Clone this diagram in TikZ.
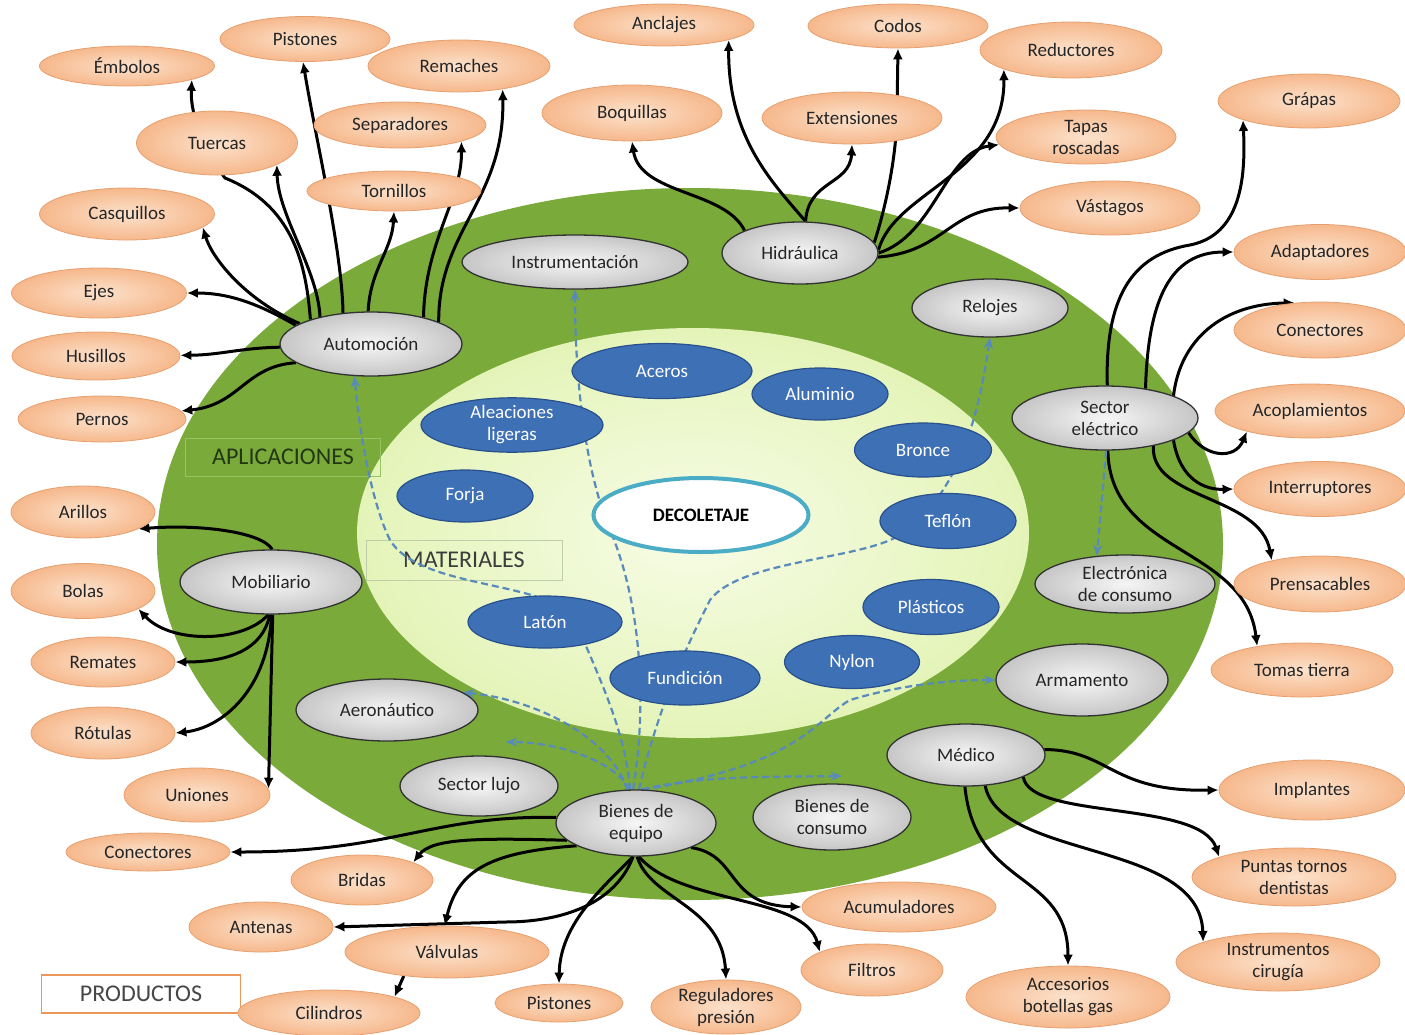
\documentclass[tikz,border=0pt]{standalone}
\usepackage{fontspec}
\setmainfont{Carlito}
\usetikzlibrary{shapes.geometric,arrows.meta}
\pgfdeclarelayer{bg}
\pgfdeclarelayer{conn}
\pgfsetlayers{bg,conn,main}
\definecolor{orIn}{RGB}{252,226,204}
\definecolor{orOut}{RGB}{246,184,140}
\definecolor{orLine}{RGB}{230,160,112}
\definecolor{gyIn}{RGB}{246,246,246}
\definecolor{gyOut}{RGB}{198,198,198}
\definecolor{gyLine}{RGB}{50,50,50}
\definecolor{blu}{RGB}{62,112,182}
\definecolor{bluLine}{RGB}{40,80,140}
\definecolor{grn}{RGB}{122,170,58}
\definecolor{lightIn}{RGB}{247,252,230}
\definecolor{lightOut}{RGB}{228,244,184}
\definecolor{decoLine}{RGB}{75,172,198}
\definecolor{dashblue}{RGB}{88,138,188}
\definecolor{txtc}{RGB}{38,38,38}
\definecolor{aplB}{RGB}{150,196,100}
\definecolor{aplT}{RGB}{35,55,20}
\definecolor{matB}{RGB}{190,206,170}
\definecolor{matT}{RGB}{60,60,60}
\definecolor{proB}{RGB}{235,150,90}
\definecolor{proT}{RGB}{70,70,70}
\newcommand{\ndfont}{\fontsize{19}{22}\selectfont}
\newcommand{\lblfont}{\fontsize{24}{28}\selectfont}
\newcommand{\decofont}{\bfseries\fontsize{19}{22}\selectfont}
\tikzset{
  nd/.style 2 args={ellipse, minimum width=#1pt, minimum height=#2pt, inner sep=0pt, align=center, font=\ndfont},
  prod/.style 2 args={nd={#1}{#2}, inner color=orIn, outer color=orOut, draw=orLine, line width=0.8pt, text=txtc},
  app/.style 2 args={nd={#1}{#2}, inner color=gyIn, outer color=gyOut, draw=gyLine, line width=1.3pt, text=txtc},
  mat/.style 2 args={nd={#1}{#2}, fill=blu, draw=bluLine, line width=1.2pt, text=white},
  lbl/.style={rectangle, inner sep=0pt, font=\lblfont},
  arr/.style={line width=3pt, black, -{Latex[length=11pt,width=10pt]}},
  dsh/.style={line width=2.2pt, dashblue, dash pattern=on 7pt off 4pt, -{Stealth[length=11pt,width=9pt]}},
}
\begin{document}
\begin{tikzpicture}[x=1pt,y=-1pt]
\useasboundingbox (0,0) rectangle (1405,1034);
\begin{pgfonlayer}{bg}
\fill[white] (0,0) rectangle (1405,1034);
\fill[grn] (690,544) ellipse [x radius=533, y radius=356];
\shade[inner color=lightIn, outer color=lightOut] (693,533) ellipse [x radius=336, y radius=205];
\node[lbl, draw=aplB, line width=1pt, text=aplT, minimum width=195pt, minimum height=38pt] (aplic) at (283,457) {APLICACIONES};
\node[lbl, draw=matB, line width=1pt, text=matT, minimum width=196pt, minimum height=40pt] (mater) at (464,560) {MATERIALES};
\end{pgfonlayer}
\node[lbl, draw=proB, fill=white, line width=1.5pt, text=proT, minimum width=199pt, minimum height=38pt] (produ) at (141,994) {PRODUCTOS};

% products (orange)
\node[prod={175}{40}] (emb) at (127,66) {Émbolos};
\node[prod={170}{45}] (pist) at (305,39) {Pistones};
\node[prod={182}{52}] (rema) at (459,66) {Remaches};
\node[prod={161}{64}] (tuer) at (217,143) {Tuercas};
\node[prod={172}{46}] (sepa) at (400,125) {Separadores};
\node[prod={174}{40}] (torn) at (394,191) {Tornillos};
\node[prod={175}{52}] (casq) at (127,214) {Casquillos};
\node[prod={175}{50}] (ejes) at (99,293) {Ejes};
\node[prod={168}{48}] (husi) at (96,356) {Husillos};
\node[prod={168}{46}] (pern) at (102,419) {Pernos};
\node[prod={180}{42}] (ancl) at (664,25) {Anclajes};
\node[prod={180}{44}] (codo) at (898,26) {Codos};
\node[prod={182}{56}] (redu) at (1071,50) {Reductores};
\node[prod={180}{56}] (boqu) at (632,113) {Boquillas};
\node[prod={180}{52}] (exte) at (852,118) {Extensiones};
\node[prod={180}{54}] (tapa) at (1086,137) {Tapas\\roscadas};
\node[prod={180}{54}] (vast) at (1110,208) {Vástagos};
\node[prod={182}{54}] (grap) at (1309,101) {Grápas};
\node[prod={172}{55}] (adap) at (1320,252) {Adaptadores};
\node[prod={172}{56}] (cone) at (1320,330) {Conectores};
\node[prod={190}{54}] (acop) at (1310,411) {Acoplamientos};
\node[prod={172}{55}] (inte) at (1320,489) {Interruptores};
\node[prod={172}{56}] (pren) at (1320,584) {Prensacables};
\node[prod={182}{54}] (toma) at (1302,670) {Tomas tierra};
\node[prod={186}{60}] (impl) at (1312,790) {Implantes};
\node[prod={204}{58}] (punt) at (1294,877) {Puntas tornos\\dentistas};
\node[prod={204}{58}] (icir) at (1278,962) {Instrumentos\\cirugía};
\node[prod={204}{62}] (acce) at (1068,997) {Accesorios\\botellas gas};
\node[prod={142}{52}] (filt) at (872,970) {Filtros};
\node[prod={194}{50}] (acum) at (899,907) {Acumuladores};
\node[prod={150}{48}] (regu) at (726,1007) {Reguladores\\presión};
\node[prod={128}{38}] (pis2) at (559,1003) {Pistones};
\node[prod={182}{46}] (cili) at (329,1013) {Cilindros};
\node[prod={204}{52}] (valv) at (447,952) {Válvulas};
\node[prod={144}{50}] (ante) at (261,927) {Antenas};
\node[prod={142}{50}] (brid) at (362,880) {Bridas};
\node[prod={164}{38}] (con2) at (148,852) {Conectores};
\node[prod={146}{54}] (unio) at (197,795) {Uniones};
\node[prod={144}{52}] (rotu) at (103,733) {Rótulas};
\node[prod={144}{50}] (remt) at (103,662) {Remates};
\node[prod={144}{55}] (bola) at (83,591) {Bolas};
\node[prod={144}{52}] (aril) at (83,512) {Arillos};

% applications (gray)
\node[app={182}{64}] (auto) at (371,344) {Automoción};
\node[app={156}{62}] (hidr) at (800,253) {Hidráulica};
\node[app={226}{54}] (inst) at (575,262) {Instrumentación};
\node[app={156}{58}] (relo) at (990,308) {Relojes};
\node[app={186}{64}] (sect) at (1105,418) {Sector\\eléctrico};
\node[app={180}{58}] (elec) at (1125,584) {Electrónica\\de consumo};
\node[app={172}{72}] (arma) at (1082,680) {Armamento};
\node[app={158}{62}] (medi) at (966,755) {Médico};
\node[app={182}{64}] (mobi) at (271,582) {Mobiliario};
\node[app={182}{62}] (aero) at (387,710) {Aeronáutico};
\node[app={158}{60}] (lujo) at (479,786) {Sector lujo};
\node[app={160}{66}] (bieq) at (636,823) {Bienes de\\equipo};
\node[app={158}{66}] (bcon) at (832,817) {Bienes de\\consumo};

% materials (blue)
\node[mat={180}{55}] (acer) at (662,371) {Aceros};
\node[mat={136}{52}] (alum) at (820,394) {Aluminio};
\node[mat={182}{54}] (alea) at (512,425) {Aleaciones\\ligeras};
\node[mat={137}{54}] (bron) at (923,450) {Bronce};
\node[mat={136}{52}] (forj) at (465,496) {Forja};
\node[mat={136}{55}] (tefl) at (948,521) {Teflón};
\node[mat={136}{55}] (plas) at (931,607) {Plásticos};
\node[mat={154}{52}] (lato) at (545,622) {Latón};
\node[mat={135}{53}] (nylo) at (852,662) {Nylon};
\node[mat={150}{54}] (fund) at (685,678) {Fundición};
\node[nd={215}{74}, fill=white, draw=decoLine, line width=4pt, text=black, font=\decofont] (deco) at (701,515) {DECOLETAJE};

\coordinate (lujoend) at (506,742);
\coordinate (bconend) at (842,776);

\begin{pgfonlayer}{conn}
% Automocion
\draw[arr] (auto.194) .. controls (245,366) and (240,405) .. (pern);
\draw[arr] (auto.182) .. controls (240,348) and (220,355) .. (husi);
\draw[arr] (auto.166) .. controls (262,306) and (232,293) .. (ejes);
\draw[arr] (auto.164) .. controls (245,300) and (212,258) .. (casq.-10);
\draw[arr] (auto.158) .. controls (306,262) and (292,205) .. (225,178) .. controls (205,152) and (190,115) .. (emb.-12);
\draw[arr] (auto.152) .. controls (318,270) and (278,215) .. (tuer.-20);
\draw[arr] (auto.132) .. controls (342,250) and (316,140) .. (pist.-95);
\draw[arr] (auto.95) .. controls (370,270) and (392,250) .. (torn.south);
\draw[arr] (auto.27) .. controls (425,240) and (462,200) .. (sepa.-15);
\draw[arr] (auto.18) .. controls (438,230) and (505,200) .. (rema.-28);
% Hidraulica
\draw[arr] (hidr.158) .. controls (725,190) and (640,195) .. (boqu.south);
\draw[arr] (hidr.80) .. controls (775,185) and (728,140) .. (ancl.-13);
\draw[arr] (hidr.80) .. controls (808,180) and (850,185) .. (exte.south);
\draw[arr] (hidr.8) .. controls (888,200) and (897,150) .. (897,110) -- (codo.south);
\draw[arr] (hidr.2) .. controls (895,190) and (1005,175) .. (redu.196);
\draw[arr] (hidr.0) .. controls (935,235) and (945,152) .. (tapa.185);
\draw[arr] (hidr.-3) .. controls (945,252) and (950,207) .. (vast.west);
% Sector electrico
\draw[arr] (sect.86) .. controls (1105,300) and (1130,255) .. (1190,245) .. controls (1240,235) and (1246,180) .. (grap.196);
\draw[arr] (sect.36) .. controls (1148,300) and (1170,252) .. (adap.west);
\draw[arr] (sect.18) .. controls (1180,340) and (1222,304) .. (cone.133);
\draw[arr] (sect.-10) .. controls (1205,458) and (1235,460) .. (acop.198);
\draw[arr] (sect.-18) .. controls (1180,480) and (1205,490) .. (inte.west);
\draw[arr] (sect.-30) .. controls (1150,500) and (1260,495) .. (pren.154);
\draw[arr] (sect.-85) .. controls (1110,555) and (1245,545) .. (toma.152);
% Mobiliario
\draw[arr] (mobi.88) .. controls (262,532) and (200,524) .. (aril.-17);
\draw[arr] (mobi.-95) .. controls (245,642) and (172,645) .. (bola.-18);
\draw[arr] (mobi.-92) .. controls (262,652) and (225,662) .. (remt.east);
\draw[arr] (mobi.-89) .. controls (268,690) and (222,728) .. (rotu.east);
\draw[arr] (mobi.-87) -- (unio.5);
% Bienes de equipo
\draw[arr] (bieq.176) .. controls (430,815) and (395,852) .. (con2.east);
\draw[arr] (bieq.194) .. controls (480,838) and (432,838) .. (brid.19);
\draw[arr] (bieq.201) .. controls (490,852) and (458,870) .. (valv.95);
\draw[arr] (bieq.-95) .. controls (615,905) and (560,922) .. (505,922) -- (ante.east);
\draw[arr] (valv.209) -- (cili.14);
\draw[arr] (bieq.-95) .. controls (600,890) and (560,925) .. (pis2.north);
\draw[arr] (bieq.-88) .. controls (650,900) and (722,905) .. (regu.north);
\draw[arr] (bieq.-85) .. controls (680,905) and (805,895) .. (filt.161);
\draw[arr] (bieq.-24) .. controls (740,855) and (725,905) .. (acum.west);
% Medico
\draw[arr] (medi.4) .. controls (1110,750) and (1110,792) .. (impl.west);
\draw[arr] (medi.-21) .. controls (1030,820) and (1200,800) .. (punt.165);
\draw[arr] (medi.-58) .. controls (1000,860) and (1200,840) .. (icir.165);
\draw[arr] (medi.-92) .. controls (975,890) and (1068,870) .. (acce.north);
% dashed
\draw[dsh] (bieq.95) .. controls (648,700) and (640,600) .. (610,530) .. controls (585,470) and (575,380) .. (inst.south);
\draw[dsh] (bieq.85) .. controls (660,700) and (690,640) .. (710,600) .. controls (740,560) and (860,560) .. (900,535) .. controls (950,500) and (975,440) .. (relo.south);
\draw[dsh] (bieq.100) .. controls (625,730) and (600,680) .. (575,620) .. controls (550,580) and (420,590) .. (390,540) .. controls (370,500) and (358,420) .. (auto.-117);
\draw[dsh] (bieq.105) .. controls (612,740) and (540,700) .. (aero.13);
\draw[dsh] (bieq.100) .. controls (615,762) and (560,742) .. (lujoend);
\draw[dsh] (bieq.80) .. controls (700,775) and (780,777) .. (bconend);
\draw[dsh] (bieq.78) .. controls (800,765) and (815,720) .. (850,700) .. controls (900,685) and (950,680) .. (arma.west);
\draw[dsh] (sect.-88) -- (elec.135);
\end{pgfonlayer}
\end{tikzpicture}
\end{document}
